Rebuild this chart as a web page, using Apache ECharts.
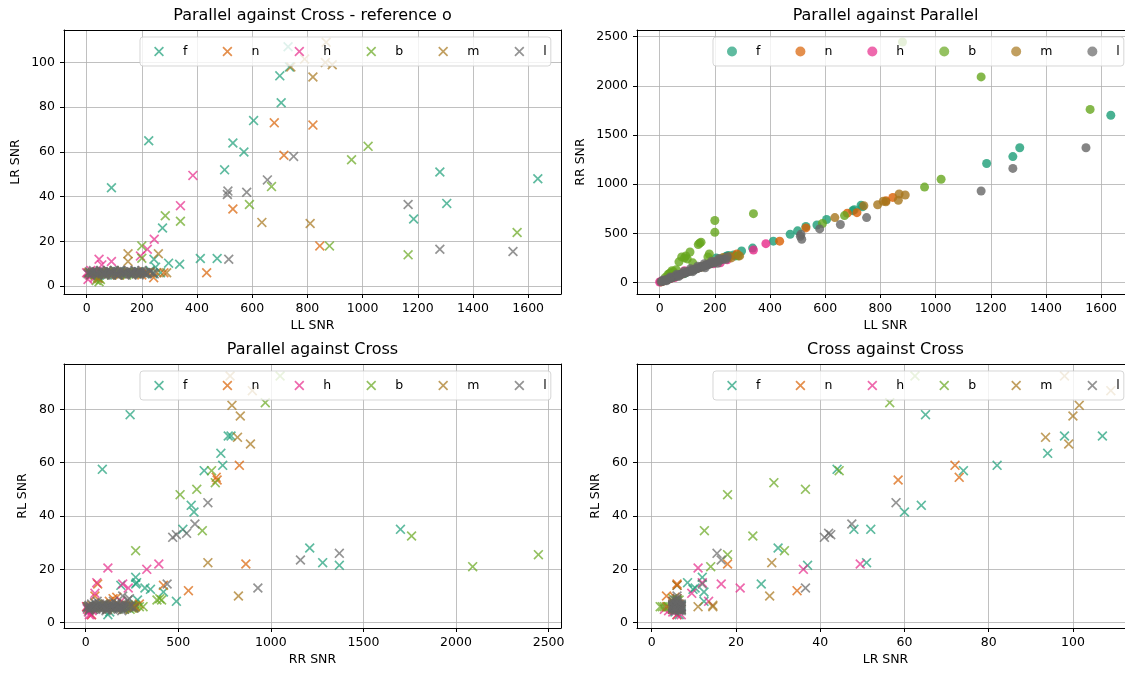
<!DOCTYPE html>
<html>
<head>
<meta charset="utf-8">
<title>SNR comparison</title>
<script src="https://cdn.jsdelivr.net/npm/echarts@6/dist/echarts.min.js"></script>
<style>
  html, body { margin: 0; padding: 0; background: #fff; }
  #chart { width: 1125px; height: 673px; }
</style>
</head>
<body>
<div id="chart"></div>
<script>
// Source groups and their colours
const categories = ['f', 'n', 'h', 'b', 'm', 'l'];
const colors = ['#1b9e77', '#d95f02', '#e7298a', '#66a61e', '#a6761d', '#666666'];

// Each row: [LL SNR, RR SNR, LR SNR, RL SNR]
const f = [
  [1635, 1700, 48, 35], [1305, 1370, 37, 21.5], [1280, 1280, 51, 22.5], [1185, 1210, 30, 28],
  [225, 240, 65, 78], [90, 90, 44, 57.5], [735, 770, 98, 70], [730, 785, 107, 70],
  [700, 730, 94, 63.5], [705, 740, 82, 59], [605, 640, 74, 57], [530, 570, 64, 44],
  [570, 585, 60, 41.5], [500, 525, 52, 35], [275, 270, 26, 14.5],
  [244, 270, 12, 17], [250, 275, 8.5, 15], [268, 280, 6, 8.5], [297, 320, 10.3, 13],
  [337, 350, 9.8, 12.5], [412, 420, 12.4, 11.5], [473, 490, 12.4, 8], [180, 190, 6, 14],
  [15, 18, 5.5, 6], [35, 38, 6, 5], [55, 58, 6.5, 6.5], [75, 80, 5, 6], [95, 100, 6, 7],
  [115, 120, 6.5, 3], [125, 130, 5.5, 4], [150, 160, 6, 6], [170, 180, 5.5, 5.5],
  [190, 200, 6.5, 6], [215, 230, 6, 5.5], [230, 245, 7, 6.5], [205, 250, 6, 6], [240, 262, 5.5, 7]
];
const n = [
  [820, 830, 72, 59], [680, 705, 73, 54.5], [715, 710, 58.5, 53.5], [845, 865, 18, 22],
  [530, 555, 34.5, 12], [435, 420, 6, 14],
  [5, 6, 6, 6], [15, 18, 5, 5], [30, 32, 6, 3], [45, 50, 3.5, 10], [60, 65, 6, 14.5],
  [80, 85, 5.5, 6], [100, 108, 6.5, 7], [120, 128, 5, 8], [140, 148, 6, 9], [160, 168, 5.5, 9.5],
  [180, 190, 6.5, 6], [200, 210, 5, 7], [220, 232, 6, 6.5], [243, 250, 3.8, 6], [280, 290, 6, 7]
];
const h = [
  [385, 395, 49.5, 22], [340, 330, 36, 20], [245, 230, 21, 13], [220, 200, 16.5, 14.5],
  [195, 190, 13.5, 8], [45, 60, 12, 15], [90, 120, 11, 20.5], [55, 50, 9.5, 11],
  [0, 5, 6, 6], [5, 10, 3, 5], [10, 15, 5, 4], [15, 20, 7, 3], [25, 30, 6, 3],
  [30, 35, 4, 4.5], [20, 25, 5.5, 6], [40, 40, 6.5, 5]
];
const b = [
  [880, 2445, 18, 25.5], [1165, 2090, 14, 21], [1560, 1760, 24, 32.5], [1020, 1050, 62.5, 92.5],
  [960, 970, 56.5, 82.5], [670, 680, 44.5, 57], [590, 600, 36.5, 50], [285, 270, 31.5, 27],
  [340, 700, 29, 52.5], [200, 510, 18, 48], [200, 630, 12.5, 34.5],
  [20, 50, 6, 6], [30, 80, 5, 5.5], [40, 100, 4, 6], [45, 120, 2, 6], [50, 110, 3, 6],
  [60, 130, 5.5, 5.5], [70, 210, 6, 5], [80, 260, 6.5, 6], [90, 250, 5, 5.5], [95, 270, 6, 6.5],
  [100, 240, 7, 5], [110, 310, 5.5, 6], [140, 385, 6, 8.5], [145, 400, 5, 9], [150, 410, 6.5, 8.5],
  [175, 260, 6, 5.5], [180, 290, 5.5, 6], [120, 200, 6, 6], [35, 90, 2.5, 6]
];
const m = [
  [740, 780, 98, 92.5], [868, 900, 109, 87], [790, 790, 101.5, 81.5], [865, 835, 100, 77.5],
  [820, 820, 93.5, 69.5], [890, 890, 99, 67], [635, 660, 28.5, 22.5], [810, 825, 28, 10],
  [150, 160, 14.5, 6], [150, 155, 11, 6], [260, 250, 14.5, 6.5],
  [10, 12, 6, 6], [30, 32, 5, 6.5], [40, 45, 3.5, 6], [50, 55, 6.5, 5.5], [70, 75, 5.5, 6],
  [90, 95, 6, 7], [110, 118, 5, 5], [130, 138, 6.5, 6], [170, 180, 6, 6.5], [190, 200, 5.5, 5],
  [255, 265, 6, 6], [290, 270, 6, 6], [230, 255, 6.5, 5.5]
];
const l = [
  [1545, 1370, 15.5, 26], [1280, 1160, 16.5, 23.5], [1165, 930, 36.5, 13], [750, 660, 58, 45],
  [655, 590, 47.5, 37], [580, 545, 42, 33.5], [510, 470, 41, 32], [512, 490, 42.5, 33],
  [515, 440, 12, 14.5], [200, 200, 6, 10],
  [5, 8, 5.5, 5.5], [10, 12, 6.5, 6], [15, 18, 5, 6.5], [20, 22, 6, 5], [25, 28, 7, 6],
  [30, 32, 5.5, 7], [35, 38, 6.5, 5.5], [40, 44, 5, 6], [45, 48, 6, 7.5], [50, 54, 7, 5],
  [55, 60, 5.5, 6.5], [60, 64, 6.5, 6], [65, 70, 5, 5.5], [70, 74, 6, 7], [75, 80, 7, 6],
  [80, 86, 5.5, 5], [85, 90, 6.5, 6.5], [90, 95, 5, 6], [95, 100, 6, 5.5], [100, 106, 7, 7],
  [105, 110, 5.5, 6], [110, 116, 6.5, 5], [115, 120, 5, 6.5], [120, 126, 6, 6], [125, 132, 7, 5.5],
  [130, 136, 5.5, 7], [135, 140, 6.5, 6], [140, 146, 5, 5], [145, 152, 6, 6.5], [150, 156, 7, 6],
  [155, 162, 5.5, 5.5], [160, 166, 6.5, 7], [165, 172, 5, 6], [170, 176, 6, 5], [175, 182, 7, 6.5],
  [180, 186, 5.5, 6], [185, 192, 6.5, 5.5], [190, 198, 5, 7], [195, 202, 6, 6], [200, 208, 7, 5],
  [210, 218, 6, 6.5], [220, 228, 5.5, 8.5], [230, 236, 6.5, 6], [240, 236, 6, 9],
  [12, 25, 6, 5.5], [38, 55, 5.5, 6], [62, 85, 6, 6.5], [88, 112, 6.5, 5], [112, 140, 5, 6],
  [138, 165, 6, 7], [162, 190, 5.5, 5.5], [188, 215, 6.5, 6], [215, 245, 6, 6], [245, 262, 5.5, 5.5],
  [25, 18, 6.5, 4.5], [70, 62, 5, 8], [120, 110, 7, 4.5], [165, 150, 6, 8], [210, 195, 5.5, 4.5]
];
const groups = [f, n, h, b, m, l];

// Tick labels
const ticksLL = [0, 200, 400, 600, 800, 1000, 1200, 1400, 1600];
const ticksRR = [0, 500, 1000, 1500, 2000, 2500];
const ticksLR = [0, 20, 40, 60, 80, 100];
const ticksRL = [0, 20, 40, 60, 80];

// Column indices into each row
const LL = 0, RR = 1, LR = 2, RL = 3;

const FONT = 'DejaVu Sans';
const CROSS = 'path://M0,12L12,0L50,38L88,0L100,12L62,50L100,88L88,100L50,62L12,100L0,88L38,50Z';
const PAGE_W = 1125;

const panels = [
  { title: 'Parallel against Cross - reference o', xCol: LL, yCol: LR, xName: 'LL SNR', yName: 'LR SNR',
    xRange: [-82, 1719], yRange: [-3.5, 114.5], xTicks: ticksLL, yTicks: ticksLR,
    symbol: CROSS, left: 64, top: 30, yNameGap: 42 },
  { title: 'Parallel against Parallel', xCol: LL, yCol: RR, xName: 'LL SNR', yName: 'RR SNR',
    xRange: [-82, 1719], yRange: [-117, 2567], xTicks: ticksLL, yTicks: ticksRR,
    symbol: 'circle', left: 637, top: 30, yNameGap: 50 },
  { title: 'Parallel against Cross', xCol: RR, yCol: RL, xName: 'RR SNR', yName: 'RL SNR',
    xRange: [-117, 2567], yRange: [-2, 97], xTicks: ticksRR, yTicks: ticksRL,
    symbol: CROSS, left: 64, top: 364, yNameGap: 35 },
  { title: 'Cross against Cross', xCol: LR, yCol: RL, xName: 'LR SNR', yName: 'RL SNR',
    xRange: [-3.5, 114.5], yRange: [-2, 97], xTicks: ticksLR, yTicks: ticksRL,
    symbol: CROSS, left: 637, top: 364, yNameGap: 35 }
];

const GW = 497, GH = 264;
const textBase = { fontFamily: FONT, color: '#000', fontSize: 12.5 };
const spineStyle = { color: '#000', width: 1 };

// Bottom / left axes carry ticks, labels and grid lines
function axis(p, i, dim) {
  const range = dim === 'x' ? p.xRange : p.yRange;
  const ticks = dim === 'x' ? p.xTicks : p.yTicks;
  return {
    type: 'value', gridIndex: i, min: range[0], max: range[1],
    position: dim === 'x' ? 'bottom' : 'left',
    name: dim === 'x' ? p.xName : p.yName,
    nameLocation: 'middle',
    nameGap: dim === 'x' ? 25 : p.yNameGap,
    nameTextStyle: textBase,
    axisLine: { show: true, onZero: false, lineStyle: spineStyle },
    axisTick: { show: true, inside: false, length: 4, customValues: ticks, lineStyle: spineStyle },
    axisLabel: { show: true, customValues: ticks, margin: dim === 'x' ? 8 : 9,
                 formatter: v => String(v), ...textBase },
    splitLine: { show: true, lineStyle: { color: '#b0b0b0', width: 0.8 } }
  };
}

// Top / right axes only close the frame; a right edge past the page is left out
function spine(p, i, dim) {
  const range = dim === 'x' ? p.xRange : p.yRange;
  const visible = dim === 'x' || p.left + GW <= PAGE_W;
  return {
    type: 'value', gridIndex: i, min: range[0], max: range[1],
    position: dim === 'x' ? 'top' : 'right',
    axisLine: { show: visible, onZero: false, lineStyle: spineStyle },
    axisTick: { show: false }, axisLabel: { show: false }, splitLine: { show: false }
  };
}

const option = {
  animation: false,
  backgroundColor: '#fff',
  title: panels.map(p => ({
    text: p.title, left: p.left + GW / 2, top: p.top - 22, textAlign: 'center', padding: 0,
    textStyle: { fontFamily: FONT, color: '#000', fontSize: 16, fontWeight: 'normal' }
  })),
  grid: panels.map(p => ({
    left: p.left, top: p.top, width: GW, height: GH, show: false,
    outerBoundsMode: 'none', containLabel: false
  })),
  xAxis: panels.map((p, i) => axis(p, i, 'x')).concat(panels.map((p, i) => spine(p, i, 'x'))),
  yAxis: panels.map((p, i) => axis(p, i, 'y')).concat(panels.map((p, i) => spine(p, i, 'y'))),
  legend: panels.map(p => ({
    show: true, selectedMode: false, orient: 'horizontal',
    left: p.left + 76, top: p.top + 7, width: 700,
    itemWidth: 38, itemHeight: 10, itemGap: 35,
    padding: [8, 4, 8, 14],
    backgroundColor: 'rgba(255,255,255,0.8)',
    borderColor: 'rgba(204,204,204,0.8)', borderWidth: 1, borderRadius: 3,
    textStyle: textBase,
    data: categories.map(c => ({ name: c, icon: p.symbol }))
  })),
  series: []
};

panels.forEach((p, i) => {
  groups.forEach((rows, k) => {
    option.series.push({
      type: 'scatter', name: categories[k],
      xAxisIndex: i, yAxisIndex: i,
      symbol: p.symbol,
      symbolSize: p.symbol === 'circle' ? 9 : 10,
      itemStyle: { color: colors[k], opacity: p.symbol === 'circle' ? 0.8 : 0.7 },
      silent: true,
      data: rows.map(r => [r[p.xCol], r[p.yCol]])
    });
  });
});

const chart = echarts.init(document.getElementById('chart'), null, { renderer: 'canvas' });
chart.setOption(option);
</script>
</body>
</html>
